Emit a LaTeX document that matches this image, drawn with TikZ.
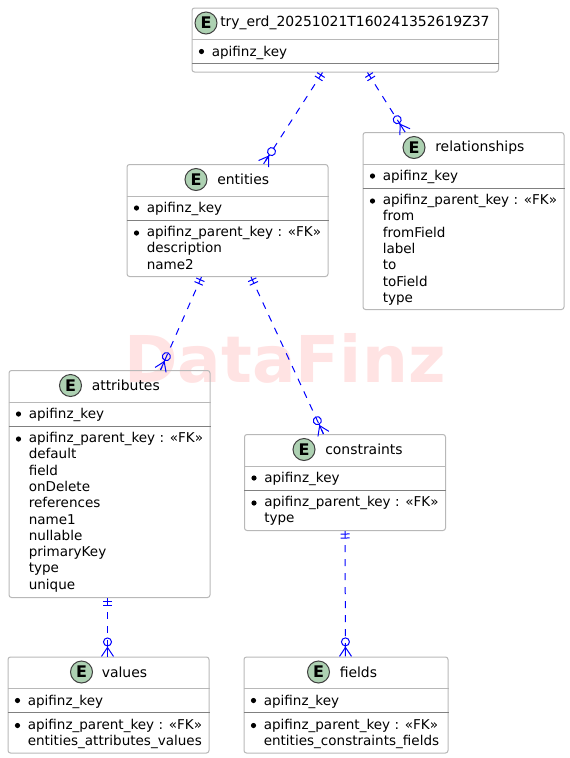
\documentclass[tikz,border=0pt]{standalone}
\usepackage{fontspec}
\setmainfont{DejaVu Sans}
\usetikzlibrary{decorations.markings, positioning, calc}
\definecolor{erdgreen}{HTML}{ADD1B2}
\definecolor{erdgray}{HTML}{B8B8B8}
\definecolor{erdmark}{HTML}{FFE3E3}
\tikzset{
  erdbox/.style={draw=erdgray, rounded corners=1.9pt, line width=0.75pt, anchor=north west, inner sep=0pt},
  erdE/.style={circle, draw=black!75, fill=erdgreen, line width=0.75pt, minimum size=16.5pt, inner sep=0pt, font=\bfseries\fontsize{12}{12}\selectfont},
  erdtext/.style={anchor=north west, inner sep=0pt, align=left, font=\fontsize{10.15}{12.22}\selectfont},
  erdtitle/.style={anchor=west, inner sep=0pt, font=\fontsize{10.45}{12.2}\selectfont},
  erdbullet/.style={circle, fill=black, minimum size=3.9pt, inner sep=0pt},
  erdrel/.style={
    blue, line width=0.75pt, dash pattern=on 5.25pt off 5.25pt,
    decoration={markings,
      mark=at position 2.25pt with {\draw[solid] (0,-4.5) -- (0,4.5);},
      mark=at position 5.25pt with {\draw[solid] (0,-4.5) -- (0,4.5);},
      mark=at position 0.999 with {
        \draw[solid] (-14.5,0) circle (4);
        \draw[solid] (-10.5,0) -- (0,0);
        \draw[solid] (0,-6) -- (-9,0) -- (0,6);
      }},
    postaction={decorate}
  }
}
% name, corner, width, height, E offset, title offset, title
\newcommand{\erdentity}[7]{
  \node[erdbox, minimum width=#3*0.75pt, minimum height=#4*0.75pt] (#1) at #2 {};
  \node[erdE] (#1E) at ($(#1.north west)+(#5,15.5)$) {E};
  \node[erdtitle] (#1T) at ($(#1.north west)+(#6,15.5)$) {#7};
  \draw[erdgray, line width=0.75pt] ($(#1.north west)+(0,32)$) -- ($(#1.north east)+(0,32)$);
  \draw[gray, line width=0.75pt] ($(#1.north west)+(0,56)$) -- ($(#1.north east)+(0,56)$);
  \node[erdbullet] (#1B) at ($(#1.north west)+(10,44)$) {};
  \node[erdtext] (#1K) at ($(#1.north west)+(20,38)$) {apifinz\_key};
}
\newcommand{\erdbody}[2]{
  \node[erdbullet] (#1C) at ($(#1.north west)+(10,69)$) {};
  \node[erdtext] (#1F) at ($(#1.north west)+(20,62)$) {#2};
}
\begin{document}
\begin{tikzpicture}[x=0.75pt, y=-0.75pt]
  \useasboundingbox (0,0) rectangle (569,758);
  \node[inner sep=0pt, text=erdmark, font=\bfseries\fontsize{48.4}{50}\selectfont] (mark) at (285,358) {DataFinz};

  \erdentity{root}{(191.5,7.5)}{306.5}{64}{14.5}{28.5}{try\_erd\_20251021T160241352619Z37}
  \erdentity{entities}{(126.5,164)}{201}{112}{69.5}{90.5}{entities}
  \erdbody{entities}{apifinz\_parent\_key : «FK»\\description\\name2}
  \erdentity{relationships}{(362.5,132)}{201}{177}{51.5}{72.5}{relationships}
  \erdbody{relationships}{apifinz\_parent\_key : «FK»\\from\\fromField\\label\\to\\toField\\type}
  \erdentity{attributes}{(8.5,370)}{201}{227}{62}{83}{attributes}
  \erdbody{attributes}{apifinz\_parent\_key : «FK»\\default\\field\\onDelete\\references\\name1\\nullable\\primaryKey\\type\\unique}
  \erdentity{constraints}{(244,434)}{201}{96}{60}{81}{constraints}
  \erdbody{constraints}{apifinz\_parent\_key : «FK»\\type}
  \erdentity{values}{(7.5,656.5)}{201}{96}{74}{94}{values}
  \erdbody{values}{apifinz\_parent\_key : «FK»\\entities\_attributes\_values}
  \erdentity{fields}{(243.5,656.5)}{204}{96}{75}{96}{fields}
  \erdbody{fields}{apifinz\_parent\_key : «FK»\\entities\_constraints\_fields}

  \draw[erdrel] ([shift={(-22.75,0)}]root.south) -- ([shift={(36,0)}]entities.north);
  \draw[erdrel] ([shift={(22.25,0)}]root.south) -- ([shift={(-58.5,0)}]relationships.north);
  \draw[erdrel] ([shift={(-26,0)}]entities.south) -- ([shift={(51,0)}]attributes.north);
  \draw[erdrel] ([shift={(23.5,0)}]entities.south) -- ([shift={(-21.5,0)}]constraints.north);
  \draw[erdrel] ([shift={(-2,0)}]attributes.south) -- ([shift={(-1,0)}]values.north);
  \draw[erdrel] (constraints.south) -- ([shift={(-0.5,0)}]fields.north);
\end{tikzpicture}
\end{document}
